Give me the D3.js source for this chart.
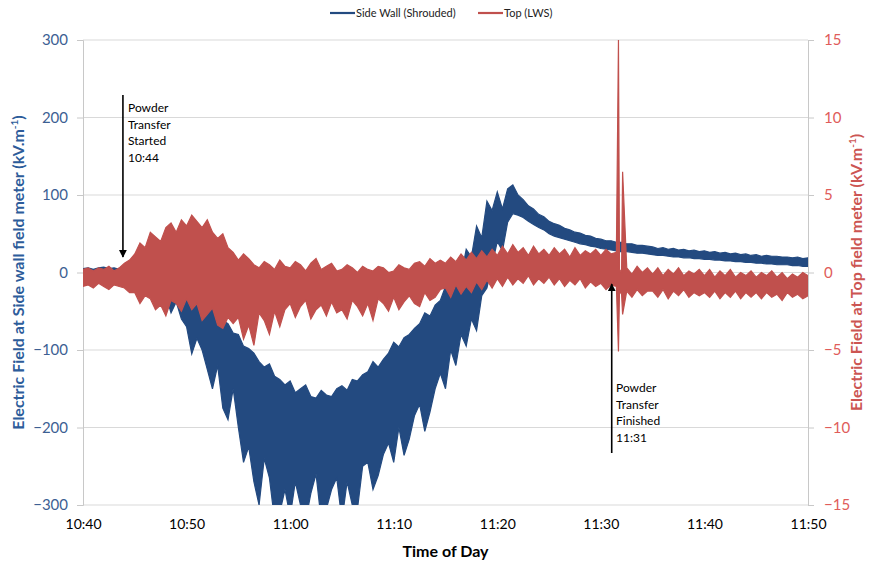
<!DOCTYPE html>
<html>
<head>
<meta charset="utf-8">
<script src="https://cdn.jsdelivr.net/npm/d3@7/dist/d3.min.js"></script>
<style>
  html, body { margin: 0; padding: 0; background: #fff; }
  svg { display: block; font-family: Lato, "Open Sans", sans-serif; }
</style>
</head>
<body>
<svg id="chart" width="870" height="565"></svg>
<script>
// ---- data ----
// sample times, minutes after 10:40 (each sample holds the high and low of the noisy trace)
const minutes = [
  0,0.5,1,1.5,2,2.5,3,3.5,4,4.5, 5,5.5,6,6.5,7,7.5,8,8.5,9,9.5,
  10,10.5,11,11.5,12,12.5,13,13.5,14,14.5, 15,15.5,16,16.5,17,17.5,18,18.5,19,19.5,
  20,20.5,21,21.5,22,22.5,23,23.5,24,24.5, 25,25.5,26,26.5,27,27.5,28,28.5,29,29.5,
  30,30.5,31,31.5,32,32.5,33,33.5,34,34.5, 35,35.5,36,36.5,37,37.5,38,38.5,39,39.5,
  40,40.5,41,41.5,42,42.5,43,43.5,44,44.5, 45,45.5,46,46.5,47,47.5,48,48.5,49,49.5,
  50,50.5,51,51.5,51.7,51.8,52,52.1,52.5,53,53.5,54,54.5,
  55,55.5,56,56.5,57,57.5,58,58.5,59,59.5,
  60,60.5,61,61.5,62,62.5,63,63.5,64,64.5, 65,65.5,66,66.5,67,67.5,68,68.5,69,69.5,
  70
];
// Side Wall (Shrouded), kV/m, left axis
const sideHigh = [
  5,6,4,6,7,5,6,4,6,3,
  2,-1,1,-3,0,-5,-2,-8,-6,-12,
  -16,-25,-24,-36,-42,-38,-50,-62,-66,-78,
  -80,-95,-98,-104,-115,-122,-118,-134,-138,-145,
  -140,-155,-150,-145,-160,-162,-152,-158,-160,-150,
  -146,-152,-138,-140,-132,-128,-115,-122,-112,-104,
  -90,-96,-84,-80,-72,-66,-52,-56,-42,-36,
  -18,-25,5,-5,30,20,60,45,92,80,
  104,82,108,113,100,94,86,82,75,72,
  66,63,61,57,55,52,51,48,47,44,
  43,41,41,39,38,39,39,38,37,37,35,35,34,
  33,31,32,30,31,29,30,28,29,27,
  28,26,27,25,26,24,25,23,24,22,
  23,21,22,21,21,20,20,19,20,18,
  19
];
const sideLow = [
  1,0,2,1,-1,2,0,1,-6,-10,
  -14,-22,-18,-32,-26,-40,-30,-52,-38,-60,
  -70,-105,-85,-100,-125,-150,-120,-175,-190,-150,
  -200,-245,-225,-270,-300,-240,-265,-320,-310,-280,
  -315,-270,-300,-320,-285,-260,-320,-305,-280,-265,
  -320,-270,-300,-305,-250,-245,-280,-262,-235,-220,
  -245,-200,-236,-215,-185,-170,-205,-180,-150,-130,
  -150,-100,-120,-80,-95,-60,-75,-30,-20,10,
  40,28,65,76,74,71,66,62,58,55,
  50,47,45,43,41,39,37,36,34,33,
  31,30,29,28,28,27,27,27,27,26,25,25,24,
  23,22,22,21,20,20,19,19,18,18,
  17,17,16,16,15,15,14,14,13,13,
  12,12,11,11,10,10,10,9,9,8,
  8
];
// Top (LWS), kV/m, right axis
const topHigh = [
  0.2,0.3,0.1,0.3,0.2,0.4,0.1,0.3,0.6,0.8,
  1.2,1.9,1.6,2.6,2.3,2.0,2.9,3.2,2.6,3.4,
  3.0,3.7,3.3,2.9,3.4,2.6,2.2,2.5,1.6,1.3,
  0.8,1.2,0.9,0.5,0.3,0.7,0.5,0.2,0.8,0.4,
  0.3,0.7,0.5,0.1,0.6,0.9,0.2,0.4,0.6,0.1,
  0.2,0.5,0.3,0.0,0.4,0.2,0.1,0.4,0.3,0.0,
  0.1,0.5,0.3,0.2,0.6,0.7,0.4,0.9,0.6,0.8,
  0.6,1.0,0.7,1.2,0.8,1.3,0.9,1.4,1.0,1.5,
  1.1,1.7,1.2,1.8,1.3,1.6,1.1,1.7,1.2,1.5,
  1.1,1.6,1.2,1.5,1.0,1.6,1.1,1.4,1.2,1.5,
  1.1,1.5,1.2,1.3,15.0,0.2,0.0,6.5,0.3,-0.1,0.4,0.0,0.3,
  -0.1,0.3,-0.2,0.2,-0.1,0.3,-0.2,0.1,-0.1,0.2,
  -0.2,0.2,-0.3,0.1,-0.2,0.2,-0.3,0.0,-0.2,0.1,
  -0.3,0.0,-0.2,0.1,-0.3,0.0,-0.4,-0.1,-0.3,0.0,
  -0.2
];
const topLow = [
  -0.9,-0.8,-1.0,-0.7,-0.9,-1.1,-0.8,-0.9,-1.0,-1.3,
  -1.3,-2.0,-1.5,-1.7,-2.4,-2.1,-2.8,-1.8,-2.0,-2.5,
  -1.7,-2.4,-2.0,-3.1,-2.7,-2.3,-3.4,-3.6,-2.9,-3.3,
  -2.9,-4.3,-3.4,-4.7,-2.6,-3.1,-4.0,-2.5,-3.5,-2.4,
  -2.0,-2.9,-2.2,-1.8,-3.0,-2.4,-2.1,-2.8,-1.9,-2.6,
  -2.4,-3.0,-1.8,-2.2,-2.8,-2.0,-3.1,-1.7,-2.0,-2.5,
  -1.6,-2.4,-1.9,-1.5,-2.0,-2.2,-1.3,-1.8,-1.6,-1.1,
  -1.0,-1.6,-0.8,-1.4,-0.9,-1.3,-0.6,-1.1,-0.5,-1.0,
  -0.4,-0.9,-0.3,-0.8,-0.4,-0.7,-0.2,-0.8,-0.4,-0.7,
  -0.3,-0.8,-0.4,-0.9,-0.5,-0.8,-0.4,-1.0,-0.6,-0.9,
  -0.7,-1.1,-0.8,-0.9,-5.1,-1.2,-1.4,-2.7,-1.2,-1.6,-1.1,-1.5,-1.2,
  -1.2,-1.6,-1.1,-1.7,-1.2,-1.5,-1.1,-1.6,-1.3,-1.5,
  -1.3,-1.6,-1.2,-1.7,-1.3,-1.6,-1.2,-1.7,-1.3,-1.6,
  -1.3,-1.7,-1.3,-1.6,-1.4,-1.8,-1.3,-1.6,-1.4,-1.7,
  -1.5
];
const xTickMinutes = [0, 10, 20, 30, 40, 50, 60, 70];
const xTickLabels = ["10:40", "10:50", "11:00", "11:10", "11:20", "11:30", "11:40", "11:50"];
const leftTicks = [-300, -200, -100, 0, 100, 200, 300];
const rightTicks = [-15, -10, -5, 0, 5, 10, 15];
const seriesNames = ["Side Wall (Shrouded)", "Top (LWS)"];
const annotations = [
  { minute: 4, lines: ["Powder", "Transfer", "Started", "10:44"] },
  { minute: 51, lines: ["Powder", "Transfer", "Finished", "11:31"] }
];

// ---- layout ----
const svg = d3.select("#chart");
const L = 83, R = 808, T = 40, B = 505;
const BLUE = "#234a80", RED = "#c0504d";

const x = d3.scaleLinear().domain([0, 70]).range([L, R]);
const yL = d3.scaleLinear().domain([-300, 300]).range([B, T]);
const yR = d3.scaleLinear().domain([-15, 15]).range([B, T]);

// gridlines
svg.append("g").selectAll("line").data(leftTicks).join("line")
  .attr("x1", L).attr("x2", R)
  .attr("y1", d => yL(d)).attr("y2", d => yL(d))
  .attr("stroke", "#d9d9d9").attr("stroke-width", 1);

// left axis
const gL = svg.append("g").attr("transform", `translate(${L},0)`)
  .call(d3.axisLeft(yL).tickValues(leftTicks).tickSize(6).tickPadding(9));
gL.select(".domain").attr("stroke", "#c8c8c8");
gL.selectAll(".tick line").attr("stroke", "#c8c8c8");
gL.selectAll(".tick text").attr("fill", "#3d5f93").attr("font-size", 15)
  .attr("font-family", "Lato, sans-serif");

// right axis
const gR = svg.append("g").attr("transform", `translate(${R},0)`)
  .call(d3.axisRight(yR).tickValues(rightTicks).tickSize(6).tickPadding(10));
gR.select(".domain").attr("stroke", "#c8c8c8");
gR.selectAll(".tick line").attr("stroke", "#c8c8c8");
gR.selectAll(".tick text").attr("fill", "#e05c5a").attr("font-size", 15)
  .attr("font-family", "Lato, sans-serif");

// x axis labels
const gX = svg.append("g").attr("transform", `translate(0,${B})`)
  .call(d3.axisBottom(x).tickValues(xTickMinutes)
    .tickFormat((d, i) => xTickLabels[i]).tickSize(0).tickPadding(14));
gX.select(".domain").remove();
gX.selectAll(".tick text").attr("fill", "#000").attr("font-size", 14)
  .attr("font-family", "Lato, sans-serif");

// clip
svg.append("clipPath").attr("id", "plotclip").append("rect")
  .attr("x", L).attr("y", T).attr("width", R - L).attr("height", B - T);

// traces: the noisy signal is drawn as the band between its sampled highs and lows
function band(hi, lo, yScale) {
  return d3.area()
    .x((d, i) => x(minutes[i]))
    .y0((d, i) => yScale(lo[i]))
    .y1((d, i) => yScale(hi[i]))(minutes);
}
const plot = svg.append("g").attr("clip-path", "url(#plotclip)");
plot.append("path").attr("d", band(sideHigh, sideLow, yL))
  .attr("fill", BLUE).attr("stroke", BLUE).attr("stroke-width", 1.2)
  .attr("stroke-linejoin", "miter");
plot.append("path").attr("d", band(topHigh, topLow, yR))
  .attr("fill", RED).attr("stroke", RED).attr("stroke-width", 1.2)
  .attr("stroke-linejoin", "miter");

// axis titles
const leftTitle = svg.append("text")
  .attr("transform", `translate(24,${(T + B) / 2}) rotate(-90)`)
  .attr("text-anchor", "middle").attr("font-weight", "bold")
  .attr("font-size", 16).attr("fill", "#2d5c9a");
leftTitle.append("tspan").text("Electric Field at Side wall field meter (kV.m");
leftTitle.append("tspan").text("-1").attr("font-size", 10).attr("dy", -6);
leftTitle.append("tspan").text(")").attr("dy", 6);

const rightTitle = svg.append("text")
  .attr("transform", `translate(862,${(T + B) / 2}) rotate(-90)`)
  .attr("text-anchor", "middle").attr("font-weight", "bold")
  .attr("font-size", 16).attr("fill", "#cc5552");
rightTitle.append("tspan").text("Electric Field at Top field meter (kV.m");
rightTitle.append("tspan").text("-1").attr("font-size", 10).attr("dy", -6);
rightTitle.append("tspan").text(")").attr("dy", 6);

svg.append("text").attr("x", (L + R) / 2).attr("y", 557)
  .attr("text-anchor", "middle").attr("font-weight", "bold")
  .attr("font-size", 16).attr("fill", "#000").text("Time of Day");

// legend
const legend = svg.append("g").attr("font-size", 11).attr("fill", "#222");
const legendX = [330, 478];
[BLUE, RED].forEach((c, i) => {
  legend.append("line").attr("x1", legendX[i]).attr("x2", legendX[i] + 25)
    .attr("y1", 13).attr("y2", 13).attr("stroke", c).attr("stroke-width", 2.2);
  legend.append("text").attr("x", legendX[i] + 26).attr("y", 17).text(seriesNames[i]);
});

// annotations
const defs = svg.append("defs");
defs.append("marker").attr("id", "ah").attr("viewBox", "0 0 10 10")
  .attr("refX", 9).attr("refY", 5).attr("markerWidth", 5).attr("markerHeight", 5)
  .attr("orient", "auto-start-reverse")
  .append("path").attr("d", "M0,0 L10,5 L0,10 z").attr("fill", "#000");

// start arrow: points down to the trace
const a0 = annotations[0];
svg.append("line").attr("x1", x(a0.minute) - 1.5).attr("x2", x(a0.minute) - 1.5)
  .attr("y1", 95).attr("y2", 257).attr("stroke", "#000").attr("stroke-width", 1.6)
  .attr("marker-end", "url(#ah)");
const t0 = svg.append("text").attr("font-size", 12).attr("fill", "#000");
a0.lines.forEach((s, i) => t0.append("tspan").attr("x", 128).attr("y", 112 + i * 16.5).text(s));

// finish arrow: points up to the trace
const a1 = annotations[1];
svg.append("line").attr("x1", x(a1.minute) + 0.5).attr("x2", x(a1.minute) + 0.5)
  .attr("y1", 453).attr("y2", 284).attr("stroke", "#000").attr("stroke-width", 1.6)
  .attr("marker-end", "url(#ah)");
const t1 = svg.append("text").attr("font-size", 12).attr("fill", "#000");
a1.lines.forEach((s, i) => t1.append("tspan").attr("x", 616).attr("y", 392 + i * 16.5).text(s));
</script>
</body>
</html>
